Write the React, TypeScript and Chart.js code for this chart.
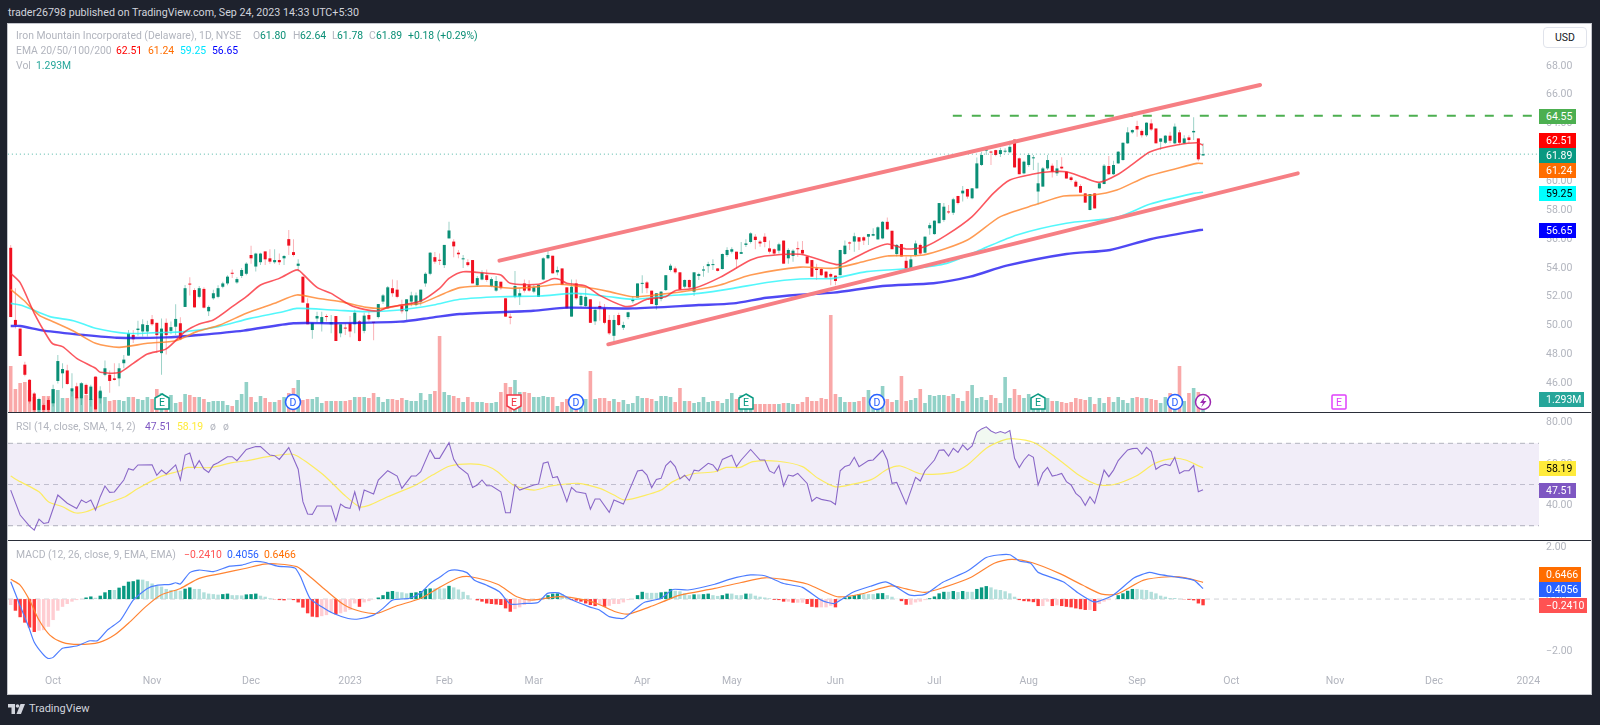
import { useRef, useEffect } from 'react';
import { Chart, registerables } from 'chart.js';

Chart.register(...registerables);

// daily bars, Sep 20 2022 -> Sep 22 2023
const opens = [
  55.4,50.4,49.8,47.3,46.25,45.3,44.16,44.5,44.85,44.62,
  46.17,46.7,46.9,45.43,45.8,44.97,45.9,44.85,46.47,44.97,
  46.6,46.6,46.35,46.35,47.4,47.93,49.36,49.7,49.6,49.6,
  50.45,50.2,48.1,50.2,49.64,49.93,50.17,51.3,52.9,52.47,
  52,52.55,51,51.9,52,52.7,52.93,53.67,53,53.45,
  53.6,54.9,54.1,54.4,55.15,54.67,54.4,54.55,54.67,56,
  55.1,54.15,53.4,51.55,49.7,50.5,50.17,50.67,50.1,50.67,
  49.47,49.85,50.17,50.1,50.3,49.64,50.74,50.23,50.6,51.67,
  51.2,52.6,52.5,51.4,51,51.67,51.43,51.67,52.93,53.6,
  54.75,54.55,54.2,56.05,55.83,55.06,54.6,54.4,54.55,52.8,
  53.2,53.5,52.75,52.43,53.05,51.9,50.63,52,52,52.93,
  52.8,52.36,52,53.2,54.67,54.85,53.7,53.97,52.66,50.63,
  52.93,51.43,51.36,51.83,50.3,51.37,51.2,50.4,49.3,50.74,
  49.86,50.6,51.7,51.95,52.9,53,52.43,51.43,51.85,52.47,
  53.86,53.97,53.7,52.7,53.17,52.36,53.45,53.82,54.13,54.2,
  53.97,53.93,54.9,55.13,55.13,54.98,55.6,55.8,56.17,55.83,
  56.17,55.36,55.3,55.2,55.9,54.67,54.83,55.36,55.25,54.8,
  54.55,53.97,53.93,53.75,53.58,53.47,53.5,54.97,55.77,55.83,
  56.13,56.13,56.17,56.24,55.98,56.05,57.2,56.58,54.97,55.66,
  54.5,53.93,54.9,55.6,55.06,56.75,56.35,57.1,57.33,57.9,
  57.83,58.99,59.17,59.47,58.83,59.52,61.14,62.13,62.06,62.17,
  61.9,62.06,62.02,62.9,61.6,60.56,61.14,61.6,59.3,59.64,
  60.9,61.09,60.56,61.02,60.67,60.28,59.98,59.68,59.17,58.02,
  59.17,59.52,59.82,61.07,60.5,61.25,61.48,62.64,63.4,63.84,
  63.5,63.2,64.02,63.67,62.75,62.68,63.17,62.64,63.4,62.64,
  63.05,63.4,62.98,61.80,
];
const highs = [
  55.6,52.6,49.8,47.5,46.3,45.4,45.0,44.6,45.0,45.9,
  47.97,47.4,47.3,46.7,46.05,46.1,46.0,45.9,46.5,45.8,
  47.58,46.9,47.4,47.4,47.97,49.7,49.7,50.35,50.45,50.35,
  50.74,50.2,50.5,50.5,50.3,51.48,50.58,52.82,53.35,52.6,
  52.75,52.66,51.4,52.5,52.8,53.05,53.5,53.9,53.35,54.0,
  54.4,55.55,55.05,55.05,55.15,55.3,55.3,55,54.9,56.63,
  56,54.6,53.4,51.9,50.2,50.97,50.97,50.8,50.74,50.67,
  50.1,50.17,50.67,51.1,50.4,50.9,50.97,50.23,51.5,52.2,
  52.75,53.2,53.15,51.8,51.83,52.35,52.3,52.5,53.7,55.1,
  55.1,55,55.6,57.2,56,55.25,54.9,54.6,54.55,53.45,
  53.85,53.9,53.35,53.45,53.05,51.9,50.85,53.8,52.6,53.2,
  53.15,52.82,52.82,54.75,55.2,54.85,54.1,53.97,52.66,53.2,
  53.2,52.25,52.6,51.83,51.3,51.67,51.5,50.74,50.74,50.9,
  50.28,50.97,52.06,52.93,53.5,53.1,52.43,52.25,52.4,53.5,
  54.3,54.1,53.7,53.2,53.2,53.7,53.67,54.13,54.44,54.6,
  54.0,55,55.43,55.43,55.13,55.8,56.0,56.47,56.33,55.94,
  56.4,55.9,55.36,55.75,55.9,55.36,55.3,55.83,55.87,54.83,
  54.55,54.3,54,53.8,53.67,53.5,55.25,55.9,55.83,56.45,
  56.13,56.2,56.35,56.75,56.9,57.25,57.5,56.58,55.66,55.66,
  54.8,54.83,55.9,55.7,56.2,57.13,57.3,58.5,58.5,58.37,
  58.87,59,59.68,59.5,59.55,61.65,62.06,62.4,62.13,62.2,
  62.34,62.3,62.82,62.9,61.65,61.45,61.95,61.83,61.3,61,
  61.83,61.25,61.48,61.67,60.67,60.4,60.1,59.8,59.2,59.13,
  59.2,59.95,61.2,61.76,61.44,62.1,62.7,63.75,63.6,64.2,
  63.6,64.1,64.3,63.67,62.98,63.22,63.45,64.02,63.56,63.2,
  63.2,64.44,62.98,62.64,
];
const lows = [
  50.6,49.8,47.9,46.5,44.6,44.0,43.9,43.95,44.0,44.4,
  46.0,45.66,45.9,45.1,44.85,44.5,45.2,44.4,44.2,44.6,
  46.5,45.36,46.2,45.8,47.05,47.9,48.8,49.3,49.25,49.25,
  50.0,48.1,46.6,48.0,49.4,49.35,49.0,51.3,52.1,51.27,
  51.9,51.2,50.67,51.8,51.9,52.6,52.8,53.3,52.9,53.3,
  53.5,54.3,53.75,54.2,54.2,54.3,54.3,54.2,54.2,54.9,
  54.8,53.75,51.6,50.1,49.1,50.2,49.6,50.3,49.47,48.94,
  49.2,49.35,49.2,49.47,48.9,49.47,50.3,49,50.5,51.5,
  51.2,52,51.9,50.85,50.4,51.35,51.35,51.4,52.7,53.5,
  54.3,54.2,54,56.05,54.75,54.67,54,54.1,52.93,52.7,
  53.15,53.05,52.66,52.36,52.5,50.6,50.1,51.9,51.43,52.3,
  52.36,52.25,52,53.15,54.6,53.6,53.5,52.8,51.2,50.63,
  51.8,51.3,51.3,50.2,50.05,50.35,50.1,49.35,48.9,49.98,
  49.7,50.44,51.55,51.95,52.25,52.25,51.5,51.1,51.7,52.4,
  53.75,53.6,52.5,52.6,52.6,52.06,53.17,53.4,53.67,53.86,
  53.75,53.9,54.78,55,53.97,54.98,55.45,55.7,55.3,55.48,
  55.43,55,54.9,55,54.3,54.3,54.44,54.78,54.9,54.28,
  53.4,53.17,53.45,53.28,52.8,52.8,53.5,54.9,55.25,55.13,
  55.25,55.6,55.6,56.2,55.98,56,56.63,55.3,54.8,54.8,
  53.82,53.86,54.8,54.9,55,56.3,56.3,57.1,57.2,57.75,
  57.67,58.4,58.6,58.8,58.76,59.5,61.07,61.83,61.14,61.75,
  61.7,61.95,61.95,60.97,60.5,60.5,61.02,60.8,58.4,59.64,
  60.8,60.28,60.37,60.84,60.2,60.0,59.6,59.2,58.5,58,
  58.1,59.5,59.8,60.44,60.44,61.2,61.45,62.6,63.3,63.1,
  63.05,63.1,63.5,62.64,62.2,62.6,62.64,62.6,62.52,62.6,
  62.64,62.87,61.4,61.78,
];
const closes = [
  50.6,50.05,47.9,46.6,44.75,44.15,44.92,44.16,44.16,45.6,
  47.55,47.0,45.96,45.66,44.97,46.0,45.27,45.78,44.2,45.5,
  47.05,46.17,46.24,47.05,47.65,49.47,49.06,49.8,50.1,50.05,
  50.1,49.35,49.8,49.35,49.9,50.47,49.06,52.6,52.85,51.27,
  52.6,51.25,51.3,52.25,52.6,52.93,53.4,53.6,53.23,53.86,
  54.3,54.67,55.0,55,54.6,54.44,54.55,54.4,54.83,55.55,
  54.9,54.3,51.6,50.1,50.2,50.67,50.6,50.6,50.25,48.94,
  50.1,49.8,49.6,50.9,48.94,50.7,50.44,50.2,51.5,52.1,
  52.66,52.25,52,51,51.83,52.1,52.1,52.5,53.6,55.06,
  54.44,54.5,55.6,56.6,55.5,54.95,54.67,54.2,52.93,53.3,
  53.67,53.17,53.23,53.1,52.6,50.63,50.55,52.75,52.25,52.43,
  52.43,52.66,52.82,54.67,54.9,53.63,53.86,52.82,51.2,52.7,
  51.9,52.06,52,50.2,51.1,51.2,50.2,49.47,50.4,50.05,
  50.05,50.93,51.83,52.93,52.93,52.6,51.5,52.25,52.36,53.5,
  54.16,53.7,52.5,53.17,52.66,53.7,53.58,53.9,54.27,54.27,
  53.8,54.97,55.25,55.3,54.6,55.1,55.7,56.4,55.94,55.7,
  55.8,55.13,55,55.64,54.3,55.25,55.2,55.3,55.0,54.32,
  53.4,53.86,53.5,53.33,53.4,53.1,55.25,55.55,55.7,56.2,
  55.83,55.9,56.35,56.35,56.82,57.2,56.68,55.3,55.6,54.8,
  53.86,54.6,55.7,55,56.17,56.97,57.28,58.5,58.25,57.85,
  58.76,58.5,59.36,58.95,59.52,61.25,61.83,62.22,62,61.83,
  62.17,62.13,62.4,60.97,60.5,61.37,61.83,61.65,59.87,60.9,
  61.48,60.67,60.9,60.9,60.2,60.1,59.64,59.22,58.53,59.13,
  58.13,59.87,61.09,60.5,61.14,62.06,62.68,63.4,63.56,63.6,
  63.2,64.07,63.6,62.64,62.98,63.17,62.82,63.8,62.68,62.98,
  62.87,63.5,61.53,61.89,
];
// millions of shares
const volumes = [
  4.7,2.4,3.0,3.1,2.3,1.6,1.4,1.7,1.7,2.4,
  2.3,1.5,1.5,2.1,1.6,3.0,1.8,1.4,3.6,2.1,
  1.6,1.2,1.3,1.3,1.2,1.6,1.6,1.4,1.3,1.6,
  1.4,2.4,2.0,1.6,1.8,1.0,1.1,1.9,1.8,1.6,
  1.6,1.4,1.1,1.2,1.2,1.2,0.8,0.7,1.3,1.9,
  3.1,1.6,1.1,1.7,1.5,1.1,1.1,1.3,1.6,2.0,
  2.5,3.3,1.3,1.4,1.4,1.6,1.0,1.2,1.2,1.2,
  1.2,1.2,1.3,1.6,1.6,1.6,1.5,2.0,1.6,1.1,
  1.4,1.4,1.3,1.5,1.3,1.2,1.2,2.0,1.3,1.9,
  2.2,7.7,2.1,1.8,1.7,1.5,1.1,1.6,1.1,1.1,
  1.1,1.0,1.0,1.1,2.1,3.0,2.6,3.3,2.1,2.1,
  2.0,1.6,1.6,1.7,1.6,1.6,0.7,1.1,1.4,1.6,
  1.5,1.6,1.4,4.2,1.4,1.5,1.5,1.2,1.4,1.1,
  1.3,0.9,1.0,1.7,1.5,1.5,1.4,1.2,1.7,1.7,
  1.6,1.1,2.5,1.2,1.2,1.0,1.1,1.6,1.1,1.2,
  1.2,1.0,1.4,2.0,1.4,1.8,1.6,1.0,0.9,0.9,
  0.9,0.9,0.9,0.9,1.0,1.0,0.9,0.9,1.1,1.6,
  1.2,1.2,1.5,1.4,9.8,1.9,1.6,1.1,1.1,1.1,
  1.2,1.6,2.3,1.3,1.2,2.7,1.4,1.1,1.3,3.7,
  1.2,1.3,1.5,2.4,1.0,1.8,1.7,1.8,1.8,1.7,
  1.9,1.5,1.2,2.2,2.8,1.5,1.6,1.3,1.8,1.5,
  1.0,3.6,1.5,2.4,1.8,1.5,1.9,1.2,1.5,1.4,
  1.5,1.2,1.2,1.1,1.0,1.1,1.5,1.4,1.3,1.6,
  0.9,1.5,1.0,1.6,1.1,1.6,1.3,1.0,1.5,1.6,
  1.5,1.5,1.4,1.3,1.0,1.6,2.0,1.2,4.7,1.2,
  2.0,2.5,2.1,1.293,
];
const macdHist = [
  -.23,-.45,-.7,-.91,-1.1,-1.27,-1.22,-1.2,-1.07,-.81,
  -.45,-.3,-.19,-.1,-.04,0,.06,.1,.05,.13,
  .26,.35,.35,.44,.51,.67,.69,.75,.75,.69,
  .6,.51,.48,.39,.35,.35,.32,.4,.45,.39,
  .39,.26,.21,.19,.17,.19,.21,.15,.15,.14,
  .18,.19,.21,.13,.09,.03,-.01,-.04,-.05,-.01,
  -.04,-.13,-.33,-.55,-.68,-.7,-.66,-.62,-.49,-.59,
  -.55,-.49,-.42,-.17,-.3,-.13,-.08,-.01,.06,.15,
  .28,.31,.28,.26,.22,.24,.26,.31,.39,.41,
  .41,.41,.41,.51,.45,.37,.28,.15,0,-.05,
  -.1,-.17,-.19,-.21,-.23,-.36,-.49,-.39,-.32,-.23,
  -.13,-.06,-.04,.05,.15,.21,.22,.19,.09,-.04,
  -.06,-.1,-.17,-.23,-.27,-.22,-.3,-.26,-.19,-.19,
  -.13,-.04,0,.15,.28,.24,.24,.24,.26,.28,
  .39,.32,.3,.22,.15,.18,.18,.19,.21,.15,
  .12,.15,.21,.21,.15,.15,.21,.21,.13,.09,
  .06,.03,-.03,-.04,-.1,-.1,-.14,-.14,-.14,-.19,
  -.3,-.32,-.32,-.32,-.26,-.32,0,.06,.1,.15,
  .19,.19,.19,.19,.22,.23,.15,.09,.01,-.08,
  -.22,-.22,-.13,-.1,-.04,.03,.1,.22,.28,.28,
  .31,.27,.31,.28,.28,.39,.45,.5,.45,.37,
  .35,.3,.22,.09,-.04,-.08,-.09,-.12,-.27,-.27,
  -.1,-.27,-.24,-.27,-.3,-.32,-.36,-.39,-.42,-.42,
  -.46,-.19,-.1,-.04,0,.15,.22,.32,.39,.39,
  .36,.35,.28,.22,.13,.09,.04,.04,.01,-.01,
  -.03,-.05,-.17,-.241,
];

// line series as [bar index, value]
const ema20 = [[0,53.63],[2,52.98],[5,50.86],[8,49.13],[9,48.73],[11,48.55],[14,47.74],[18,47.05],[19,46.77],[23,46.75],[26,47.39],[29,48.04],[33,48.39],[37,49.59],[40,50.12],[43,50.4],[47,51.32],[50,52.01],[53,52.82],[57,53.28],[60,53.79],[61,53.86],[62,53.58],[65,52.66],[68,52.24],[72,51.43],[75,51.13],[78,51.02],[80,51.27],[83,51.43],[87,51.71],[91,52.59],[93,53.28],[96,53.74],[101,53.63],[104,53.51],[106,52.94],[112,52.87],[115,53.26],[116.5,53.21],[118,52.94],[122,52.75],[125,52.1],[130,51.37],[132,51.39],[135,51.83],[139,52.01],[141,52.43],[145,52.59],[150.5,53.35],[157,54.55],[160,54.83],[167.5,54.95],[175,54.25],[176.7,54.32],[181.6,55.13],[186,55.66],[190,55.32],[194,55.48],[198.6,56.29],[204,57.56],[208.5,59.17],[212,60.1],[217,60.51],[220.5,60.67],[224,60.67],[227.6,60.28],[231,59.94],[234.7,60.44],[238,61.18],[241.8,62.06],[247.4,62.52],[251.7,62.68],[253,62.51]];
const ema50 = [[0,52.52],[2.7,51.78],[6,50.74],[9,50.28],[13.3,49.63],[18,48.78],[23,48.5],[29,48.78],[35,48.96],[39.5,49.59],[44.4,50.05],[50,50.86],[56,51.55],[60.7,52.13],[65,51.9],[70,51.67],[75.5,51.27],[79,51.2],[82.6,51.41],[87,51.55],[92,52.24],[95.3,52.64],[101,52.75],[106.6,52.59],[112,52.71],[116.5,52.87],[122,52.66],[127,52.36],[132,52.01],[137.8,52.17],[145,52.47],[150.5,52.82],[157,53.51],[167.5,54.06],[174.6,53.98],[179.5,54.32],[186,54.83],[193.7,54.9],[203,55.94],[210,57.56],[217.7,58.41],[223.4,58.99],[229.7,59.06],[234.7,59.4],[241,60.33],[247.4,60.9],[251.7,61.25],[253,61.24]];
const ema100 = [[0,51.55],[2.7,51.37],[8.3,50.63],[13.3,50.35],[18,49.82],[24.6,49.47],[31,49.52],[37,49.59],[44,49.93],[50.8,50.51],[57.8,50.97],[60.7,51.2],[68.5,51.09],[75.5,50.97],[82.6,51.09],[89.7,51.43],[95.3,51.83],[103.8,52.01],[112.3,52.06],[120,52.24],[127,52.01],[132,51.83],[139,52.06],[146,52.24],[153.3,52.59],[160.4,53.0],[167.5,53.24],[174.6,53.28],[181.6,53.75],[191.5,53.98],[198.6,54.32],[205.7,55.25],[213.5,56.29],[224,57.1],[234.7,57.51],[241.8,58.43],[251,59.17],[253,59.25]];
const ema200 = [[0,49.98],[2,49.98],[7,49.66],[15.4,49.36],[22.5,49.17],[33,49.19],[40,49.36],[49.4,49.66],[60,50.17],[68.5,50.17],[82.6,50.28],[89.7,50.58],[95.3,50.81],[110.9,51.04],[118,51.25],[132,51.2],[146,51.43],[153.3,51.55],[160.4,51.94],[167.5,52.15],[174.6,52.29],[185,52.75],[195.8,52.94],[203.6,53.4],[211.3,54.16],[224,54.97],[233.3,55.25],[241.8,55.99],[252.4,56.63],[253,56.65]];

const rsi = [[0,47.3],[1,41.2],[2,35.2],[4,29.8],[5,27.9],[6,33.2],[7,31.1],[8,31.6],[10,44.9],[12,40.9],[14,38.4],[15,42.5],[16,41.2],[17,42.5],[18,37.6],[19,44.1],[20,49.3],[21,46.2],[22,46.4],[24,52.2],[25,57.7],[26,57],[27,59.5],[30,59.6],[31,54.5],[32,57],[33,55.1],[35,59.5],[36,52.2],[37,64.3],[38,65.3],[39,57.9],[40,61.6],[41,57.5],[42,55.9],[43,59.5],[44,60.6],[46,63.5],[47,63.5],[48,61.6],[50,67],[52,68.4],[53,68.4],[55,64.3],[56,64],[57,62.2],[59,67.9],[61,57.4],[62,41.7],[63,35.7],[64,35.5],[65,39.6],[68,39.6],[69,32.3],[70,40.5],[71,38.9],[72,38.4],[73,46.5],[74,37.9],[75,47.3],[77,45.4],[78,52.2],[80,56.7],[82,54.1],[83,48.1],[85,54.1],[86,54.1],[87,56.2],[89,66.8],[90,62.7],[91,62.7],[93,70.3],[94,62.2],[95,58.7],[97,55.1],[98,48.6],[99,49.8],[100,52.2],[101,49.4],[102,49.4],[104,46.5],[105,36.3],[106,36.3],[107,49.8],[108,47.3],[111,49.8],[112,50.2],[113,60.3],[114,61],[115,53.3],[116,53.8],[117,48.1],[118,41.7],[119,48.6],[120,46.5],[122,45.7],[123,38],[124,43],[125,43],[127,36.5],[128,42.5],[130,40.5],[133,56.6],[134,57],[135,54.6],[136,48.5],[137,52.5],[138,53],[139,59.2],[140,61.4],[141,58.7],[142,52.7],[143,54.5],[144,51.9],[145,57],[146,56.6],[148,60.3],[149,59.5],[150,56.6],[151,62.2],[153,64.2],[154,58.7],[155,61.9],[157,67],[159,61.9],[160,61.9],[161,56.6],[162,55.4],[163,59.2],[164,49.3],[165,54.6],[166,54.1],[167,55.4],[169,50.5],[170,41.9],[171,43.8],[172,42.8],[174,41.9],[175,40.3],[176,56.7],[177,58.7],[178,59.5],[179,63.2],[180,58.7],[182,61.6],[183,61.9],[185,66.6],[186,61.9],[187,50.6],[188,51],[190,40.5],[192,53.5],[193,51.7],[194,56.7],[196,61.9],[197,66.6],[198,66.8],[199,63.8],[200,67.6],[201,65.6],[202,69.2],[203,66.8],[204,68.7],[205,75.3],[206,77],[207,78],[208,76],[209,74.9],[210,75.7],[211,74.9],[212,76.2],[213,62.7],[214,58.2],[215,61.9],[216,64.5],[217,63.2],[218,49.8],[219,55.7],[220,58.3],[221,54.1],[222,54.6],[223,55.4],[224,51.4],[225,49.8],[226,45.7],[227,43.8],[228,39.9],[229,44.1],[230,40.9],[231,48.9],[232,57],[233,53.8],[234,57],[235,61.6],[236,64.3],[237,66.8],[238,67.4],[239,67.6],[240,64.8],[241,68],[242,66],[243,57.4],[244,59],[245,59.8],[246,59.2],[247,63.2],[248,55.4],[249,56.7],[250,56.7],[251,59.2],[252,46.5],[253,47.51]];
const rsiMa = [[0,54.1],[2,51.4],[6,46.5],[8,41.7],[11,39.2],[13.6,36.3],[16,36.8],[20,40.5],[24,43.8],[27,48.1],[32,54.1],[36,56.7],[37.5,58.3],[42.4,58.2],[47,60.6],[49.7,61.4],[54.6,63.5],[59.5,64.8],[60.7,64],[62.7,61],[66.8,53.8],[70.8,44.9],[74,39.2],[76,39.9],[80,44.1],[86,49.8],[89.5,54.6],[93.2,59],[97.6,60],[101,59],[103.3,56.2],[106.6,49.8],[111,47.3],[114.7,49.3],[120.4,50.6],[125,48.1],[128,44.9],[130.3,42.5],[135.6,45.4],[138,47.3],[140.5,51.4],[144.5,55.1],[149.4,56.2],[151.8,58.3],[154.7,58.3],[157.5,61.1],[162.8,61.3],[168,58.7],[171.3,53],[175,48.9],[178.7,50.2],[182.7,52.5],[186,57.4],[188.8,59],[193.3,55.1],[199.8,55.9],[203,59.5],[207,67.6],[210.3,71.3],[212.4,72.3],[217.2,70.3],[222.5,61.9],[226.6,54.6],[230.6,49.9],[233.9,49.9],[238.8,54.1],[242.8,60.3],[246.9,62.7],[249.3,61.9],[252.4,58.7],[253,58.19]];
const macdLine = [[0,0.67],[1.8,-0.17],[3.8,-1.07],[5,-1.67],[6.7,-2.1],[7.9,-2.29],[9,-2.25],[11,-1.9],[14,-1.81],[16.8,-1.61],[18.4,-1.61],[20.5,-1.2],[23.3,-0.81],[26,-0.04],[29,0.41],[31,0.53],[33.9,0.57],[35,0.63],[36,0.58],[38,1.02],[40,1.12],[43,1.06],[46.5,1.27],[49,1.31],[51.7,1.45],[53.8,1.42],[56.6,1.27],[60.3,1.2],[61.5,0.86],[63.5,0.03],[66,-0.3],[68.4,-0.55],[71.6,-0.75],[73.8,-0.77],[77,-0.62],[79,-0.36],[81,-0.04],[84.6,0.03],[87,0.24],[89,0.6],[91,0.84],[93,1.09],[94.8,1.12],[96.8,1.02],[98.4,0.73],[100.9,0.54],[103.7,0.28],[106,-0.19],[109,-0.17],[111.9,-0.13],[113.9,0.22],[116.3,0.24],[118.8,-0.01],[122.8,-0.3],[125,-0.43],[127,-0.68],[130,-0.75],[132.3,-0.42],[134.4,-0.13],[138,0.03],[140.5,0.37],[143.7,0.35],[149.4,0.57],[152.7,0.77],[157,0.93],[160,0.9],[164,0.6],[168,0.45],[172,-0.04],[174.8,-0.17],[178.7,0.26],[182.7,0.51],[185.6,0.66],[187.6,0.5],[190.8,0.15],[194,0.18],[197.7,0.64],[203,1.08],[207,1.6],[209.5,1.7],[212,1.71],[214,1.47],[216.4,1.38],[218,1.03],[223.3,0.67],[226.6,0.22],[229.4,-0.08],[230.6,-0.1],[233.9,0.15],[238.4,0.82],[241.6,1.03],[243.6,0.95],[246.9,0.86],[251,0.73],[253,0.4056]];
const macdSignal = [[0,0.76],[2,0.54],[4,-0.04],[6,-0.81],[8.3,-1.39],[11,-1.67],[14.4,-1.75],[18.8,-1.67],[22,-1.39],[25.3,-0.88],[28.6,-0.3],[31.8,0.15],[36,0.41],[40,0.8],[44.8,0.99],[49.7,1.18],[53.8,1.35],[56.2,1.36],[60.7,1.25],[63.5,0.86],[66.8,0.35],[70.8,-0.23],[74.5,-0.49],[77.7,-0.55],[81.8,-0.27],[87,0.03],[91,0.45],[95,0.82],[97.6,0.86],[103.3,0.57],[107.4,0.09],[110.6,-0.04],[116.3,0.09],[122,-0.04],[125,-0.22],[128.3,-0.49],[131,-0.58],[135.6,-0.3],[138.4,-0.1],[142,0.15],[149.4,0.41],[155,0.64],[160,0.82],[164,0.76],[169,0.58],[175.4,0.09],[180.3,0.19],[186.8,0.51],[190,0.39],[194,0.26],[198,0.45],[203.8,0.84],[208.7,1.38],[212.4,1.53],[216.8,1.4],[222.5,0.99],[227.4,0.54],[231.5,0.19],[234.7,0.19],[240.4,0.73],[246,0.86],[249.3,0.82],[253,0.6466]];

// drawings
const channelTop = [[103.7,54.51],[265.1,66.68]];
const channelBottom = [[126.8,48.71],[273.1,60.56]];
const resistance = [[199.9,64.55],[324.3,64.55]];
const lastPrice = [[-0.6,61.89],[324.3,61.89]];

const priceTicks = [68,66,64,62,60,58,56,54,52,50,48,46];
const rsiTicks = [80,60,40];
const macdTicks = [2,0,-2];
const monthDays = [9,30,51,72,92,111,134,153,175,196,216,239,259,281,302,322];
const monthLabels = ['Oct','Nov','Dec','2023','Feb','Mar','Apr','May','Jun','Jul','Aug','Sep','Oct','Nov','Dec','2024'];

const FONT = 'Roboto, sans-serif';
const GREY = '#b2b5be';
const UP = '#0a8f76';
const DOWN = '#f01020';
const X_MIN = -0.573;
const X_MAX = 324.28;

const toXY = (pts: number[][]) => pts.map(([x, y]) => ({ x, y }));
const days = closes.map((_, i) => i);

const lineDs = (data: number[][], yAxisID: string, color: string, width: number, order: number, extra: any = {}) => ({
  type: 'line',
  data: toXY(data),
  yAxisID,
  borderColor: color,
  borderWidth: width,
  pointRadius: 0,
  tension: 0,
  fill: false,
  order,
  ...extra,
});

const barOpts = { type: 'bar', grouped: false, barPercentage: 1, categoryPercentage: 1, inflateAmount: 0 };

const paneAxis = (min: number, max: number, weight: number, tickList: number[], fmt: (v: number) => string) => ({
  type: 'linear',
  position: 'right',
  stack: 'panes',
  stackWeight: weight,
  min,
  max,
  grid: { display: false, drawTicks: false },
  border: { display: false },
  afterBuildTicks: (s: any) => { s.ticks = tickList.map(value => ({ value })); },
  // no extra room for the outer tick labels, the panes start at the canvas edge
  afterFit: (s: any) => { s.width = 52; s.paddingTop = 0; s.paddingBottom = 0; },
  ticks: { color: GREY, font: { family: FONT, size: 10.5 }, padding: 7, autoSkip: false, callback: (v: number) => fmt(v) },
});

// dark rules between the panes
const paneRules = {
  id: 'paneRules',
  afterDraw(chart: any) {
    const { ctx, width } = chart;
    ctx.save();
    ctx.fillStyle = '#2a2e39';
    ctx.fillRect(0, Math.round(chart.scales.yRsi.top) - 1, width, 1);
    ctx.fillRect(0, Math.round(chart.scales.yMacd.top) - 1, width, 1);
    ctx.restore();
  },
};

const legendRows = [
  { top: 29, items: [
    [16, 'Iron Mountain Incorporated (Delaware), 1D, NYSE', GREY], [253, 'O', GREY], [260, '61.80', UP], [293, 'H', GREY], [300, '62.64', UP],
    [332, 'L', GREY], [337, '61.78', UP], [369, 'C', GREY], [376, '61.89', UP], [408, '+0.18 (+0.29%)', UP],
  ] },
  { top: 44, items: [[16, 'EMA 20/50/100/200', GREY], [116, '62.51', '#ff0000'], [148, '61.24', '#ff6d00'], [180, '59.25', '#00e5ff'], [212, '56.65', '#0000ff']] },
  { top: 59, items: [[16, 'Vol', GREY], [36, '1.293M', '#26a69a']] },
  { top: 420, items: [[16, 'RSI (14, close, SMA, 14, 2)', GREY], [145, '47.51', '#7e57c2'], [177, '58.19', '#ffeb3b'], [210, 'ø', GREY], [223, 'ø', GREY]] },
  { top: 548, items: [[16, 'MACD (12, 26, close, 9, EMA, EMA)', GREY], [184, '−0.2410', '#ff5252'], [227, '0.4056', '#2962ff'], [264, '0.6466', '#ff6d00']] },
];

const priceTags = [
  { y: 116, w: 37, bg: '#4caf50', fg: '#fff', text: '64.55' },
  { y: 140, w: 37, bg: '#ff0000', fg: '#fff', text: '62.51' },
  { y: 155, w: 37, bg: '#089981', fg: '#fff', text: '61.89' },
  { y: 170, w: 37, bg: '#ff6d00', fg: '#fff', text: '61.24' },
  { y: 193, w: 37, bg: '#00ffff', fg: '#000', text: '59.25' },
  { y: 230, w: 37, bg: '#0000ff', fg: '#fff', text: '56.65' },
  { y: 399, w: 45, bg: '#26a69a', fg: '#fff', text: '1.293M' },
  { y: 468, w: 37, bg: '#ffeb3b', fg: '#000', text: '58.19' },
  { y: 490, w: 37, bg: '#7e57c2', fg: '#fff', text: '47.51' },
  { y: 574, w: 42, bg: '#ff6d00', fg: '#fff', text: '0.6466' },
  { y: 589, w: 42, bg: '#2962ff', fg: '#fff', text: '0.4056' },
  { y: 605, w: 48, bg: '#ff5252', fg: '#fff', text: '−0.2410' },
];

const Marker = ({ x, kind }: { x: number; kind: string }) => {
  const y = 402;
  const box: any = { position: 'absolute', left: x - 9, top: y - 9, width: 18, height: 18 };
  const label = (c: string, t: string) => (
    <text x="9" y="13" textAnchor="middle" fontSize="10.5" fontFamily={FONT} fill={c}>{t}</text>
  );
  if (kind === 'D') {
    return (
      <svg style={box}><circle cx="9" cy="9" r="7.5" fill="#fff" stroke="#2962ff" strokeWidth="1.6" />{label('#2962ff', 'D')}</svg>
    );
  }
  if (kind === 'Eup') {
    return (
      <svg style={box}><path d="M9 1 L16 5 V16 H2 V5 Z" fill="#fff" stroke="#089981" strokeWidth="1.5" />{label('#089981', 'E')}</svg>
    );
  }
  if (kind === 'Edown') {
    return (
      <svg style={box}><path d="M2 2 H16 V13 L9 17 L2 13 Z" fill="#fff" stroke="#f23645" strokeWidth="1.5" />{label('#f23645', 'E')}</svg>
    );
  }
  if (kind === 'Efuture') {
    return (
      <svg style={box}><rect x="2" y="2" width="14" height="14" rx="1" fill="#fff" stroke="#e040fb" strokeWidth="1.5" />{label('#e040fb', 'E')}</svg>
    );
  }
  return (
    <svg style={box}>
      <circle cx="9" cy="9" r="7.5" fill="#fff" stroke="#9c27b0" strokeWidth="1.5" />
      <path d="M11 3.5 L6 10 H9 L7 14.5 L12.5 8 H9.5 Z" fill="#9c27b0" />
    </svg>
  );
};

const markers = [
  { x: 162, kind: 'Eup' }, { x: 293, kind: 'D' }, { x: 514, kind: 'Edown' }, { x: 576, kind: 'D' },
  { x: 746, kind: 'Eup' }, { x: 877, kind: 'D' }, { x: 1038, kind: 'Eup' }, { x: 1175, kind: 'D' },
  { x: 1203, kind: 'bolt' }, { x: 1339, kind: 'Efuture' },
];

const txt = (left: number, top: number, color: string, size = 10.4): any => ({
  position: 'absolute', left, top, color, fontFamily: FONT, fontSize: size, lineHeight: '14px', whiteSpace: 'nowrap',
});

const App = () => {
  const canvasRef = useRef<HTMLCanvasElement>(null);

  useEffect(() => {
    document.body.style.margin = '0';
    document.body.style.background = '#1e222d';
    if (!canvasRef.current) return;

    const histColors = macdHist.map((v, i) => {
      const prev = i > 0 ? macdHist[i - 1] : v;
      if (v >= 0) return v > prev ? '#089981' : '#b2dfdb';
      return v < prev ? '#ff3a3a' : '#ffcdd2';
    });

    const chart = new Chart(canvasRef.current, {
      type: 'bar',
      plugins: [paneRules],
      data: {
        datasets: [
          // drawings on top
          lineDs(channelTop, 'yPrice', '#f67f84', 4, 1, { borderCapStyle: 'round' }),
          lineDs(channelBottom, 'yPrice', '#f67f84', 4, 1, { borderCapStyle: 'round' }),
          lineDs(resistance, 'yPrice', '#4caf50', 2, 1, { borderDash: [9, 10] }),
          lineDs(lastPrice, 'yPrice', 'rgba(8,153,129,0.7)', 1, 2, { borderDash: [1, 3] }),
          // moving averages
          lineDs(ema20, 'yPrice', 'rgba(250,40,50,0.78)', 1.6, 3, { tension: 0.25 }),
          lineDs(ema50, 'yPrice', 'rgba(255,130,40,0.8)', 1.6, 3, { tension: 0.25 }),
          lineDs(ema100, 'yPrice', 'rgba(40,245,250,0.8)', 1.6, 3, { tension: 0.25 }),
          lineDs(ema200, 'yPrice', 'rgba(30,20,240,0.78)', 2.4, 3, { tension: 0.25 }),
          // candles
          {
            ...barOpts,
            data: days.map(i => ({ x: i, y: [opens[i], closes[i]] })),
            yAxisID: 'yPrice',
            backgroundColor: days.map(i => (closes[i] >= opens[i] ? UP : DOWN)),
            maxBarThickness: 3,
            minBarLength: 1,
            order: 4,
          },
          {
            ...barOpts,
            data: days.map(i => ({ x: i, y: [lows[i], highs[i]] })),
            yAxisID: 'yPrice',
            backgroundColor: days.map(i => (closes[i] >= opens[i] ? 'rgba(10,143,118,0.4)' : 'rgba(240,16,32,0.32)')),
            maxBarThickness: 1,
            order: 5,
          },
          {
            ...barOpts,
            data: days.map(i => ({ x: i, y: volumes[i] })),
            yAxisID: 'yVol',
            backgroundColor: days.map(i => (closes[i] >= opens[i] ? '#92d1c7' : '#f9a8a8')),
            maxBarThickness: 3.6,
            order: 9,
          },
          // RSI pane
          lineDs([[X_MIN, 70], [X_MAX, 70]], 'yRsi', '#b2b5be', 1, 8, {
            borderDash: [5, 4], fill: { target: { value: 30 }, above: 'rgba(126,87,194,0.11)' },
          }),
          lineDs([[X_MIN, 50], [X_MAX, 50]], 'yRsi', '#c8cad0', 1, 8, { borderDash: [5, 4] }),
          lineDs([[X_MIN, 30], [X_MAX, 30]], 'yRsi', '#b2b5be', 1, 8, { borderDash: [5, 4] }),
          lineDs(rsiMa, 'yRsi', 'rgba(255,235,59,0.8)', 1.2, 3, { tension: 0.25 }),
          lineDs(rsi, 'yRsi', '#8a68c8', 1.1, 2, {
            fill: { target: { value: 70 }, above: 'rgba(76,175,80,0.08)', below: 'rgba(0,0,0,0)' },
          }),
          // MACD pane
          lineDs([[X_MIN, 0], [X_MAX, 0]], 'yMacd', '#d0d2d8', 1, 8, { borderDash: [5, 4] }),
          {
            ...barOpts,
            data: days.map(i => ({ x: i, y: macdHist[i] })),
            yAxisID: 'yMacd',
            backgroundColor: histColors,
            maxBarThickness: 3.4,
            order: 7,
          },
          lineDs(macdLine, 'yMacd', '#4d7dff', 1.2, 2, { tension: 0.2 }),
          lineDs(macdSignal, 'yMacd', '#ff8433', 1.2, 3, { tension: 0.25 }),
        ] as any,
      },
      options: {
        responsive: false,
        animation: false,
        events: [],
        layout: { padding: 0 },
        plugins: { legend: { display: false }, tooltip: { enabled: false } },
        scales: {
          x: {
            type: 'linear',
            offset: false,
            min: X_MIN,
            max: X_MAX,
            grid: { display: false, drawTicks: false, offset: false },
            border: { display: false },
            afterBuildTicks: (s: any) => { s.ticks = monthDays.map(value => ({ value })); },
            afterFit: (s: any) => { s.height = 26; s.paddingLeft = 0; s.paddingRight = 0; },
            ticks: {
              color: GREY,
              font: { family: FONT, size: 10.5 },
              padding: 7,
              autoSkip: false,
              maxRotation: 0,
              callback: (v: number) => monthLabels[monthDays.indexOf(v)],
            },
          },
          yVol: { type: 'linear', position: 'right', display: false, min: -25.5, max: 38.9 },
          // the stack is laid out bottom-first
          yPrice: paneAxis(43.95, 70.91, 389, priceTicks, v => v.toFixed(2)),
          yRsi: paneAxis(22.6, 84.7, 128, rsiTicks, v => v.toFixed(2)),
          yMacd: paneAxis(-2.66, 2.24, 127, macdTicks, v => (v < 0 ? '−' + Math.abs(v).toFixed(2) : v.toFixed(2))),
        } as any,
      },
    });

    return () => chart.destroy();
  }, []);

  return (
    <div style={{ position: 'relative', width: 1600, height: 725, background: '#1e222d', overflow: 'hidden' }}>
      <div style={txt(8, 6, '#d1d4dc', 10.7)}>trader26798 published on TradingView.com, Sep 24, 2023 14:33 UTC+5:30</div>
      <div style={{ position: 'absolute', left: 8, top: 24, width: 1583, height: 670, background: '#fff', boxShadow: '0 0 0 1px #c3c5cc' }}>
        <canvas ref={canvasRef} width={1583} height={670} style={{ display: 'block' }} />
      </div>
      {legendRows.map(row => row.items.map(([left, text, color]: any) => (
        <div key={row.top + text + left} style={txt(left, row.top, color)}>{text}</div>
      )))}
      <div style={{ position: 'absolute', left: 1543, top: 27, width: 44, height: 21, border: '1px solid #e0e3eb', borderRadius: 4, boxSizing: 'border-box', color: '#131722', fontFamily: FONT, fontSize: 10.5, lineHeight: '19px', textAlign: 'center', background: '#fff' }}>USD</div>
      {markers.map(m => <Marker key={m.x} x={m.x} kind={m.kind} />)}
      {priceTags.map(t => (
        <div key={t.text} style={{ position: 'absolute', left: 1539, top: t.y - 7.5, width: t.w, height: 15, background: t.bg, color: t.fg, fontFamily: FONT, fontSize: 10.5, lineHeight: '15px', paddingLeft: 7, boxSizing: 'border-box' }}>{t.text}</div>
      ))}
      <svg style={{ position: 'absolute', left: 8, top: 704, width: 18, height: 11 }}>
        <path d="M0 0 H7 V10 H3.5 V3.5 H0 Z" fill="#d1d4dc" />
        <circle cx="9.5" cy="2" r="1.8" fill="#d1d4dc" />
        <path d="M12.5 0 H17 L13 10 H8.5 Z" fill="#d1d4dc" />
      </svg>
      <div style={txt(29, 702, '#d1d4dc', 11)}>TradingView</div>
    </div>
  );
};

export default App;
